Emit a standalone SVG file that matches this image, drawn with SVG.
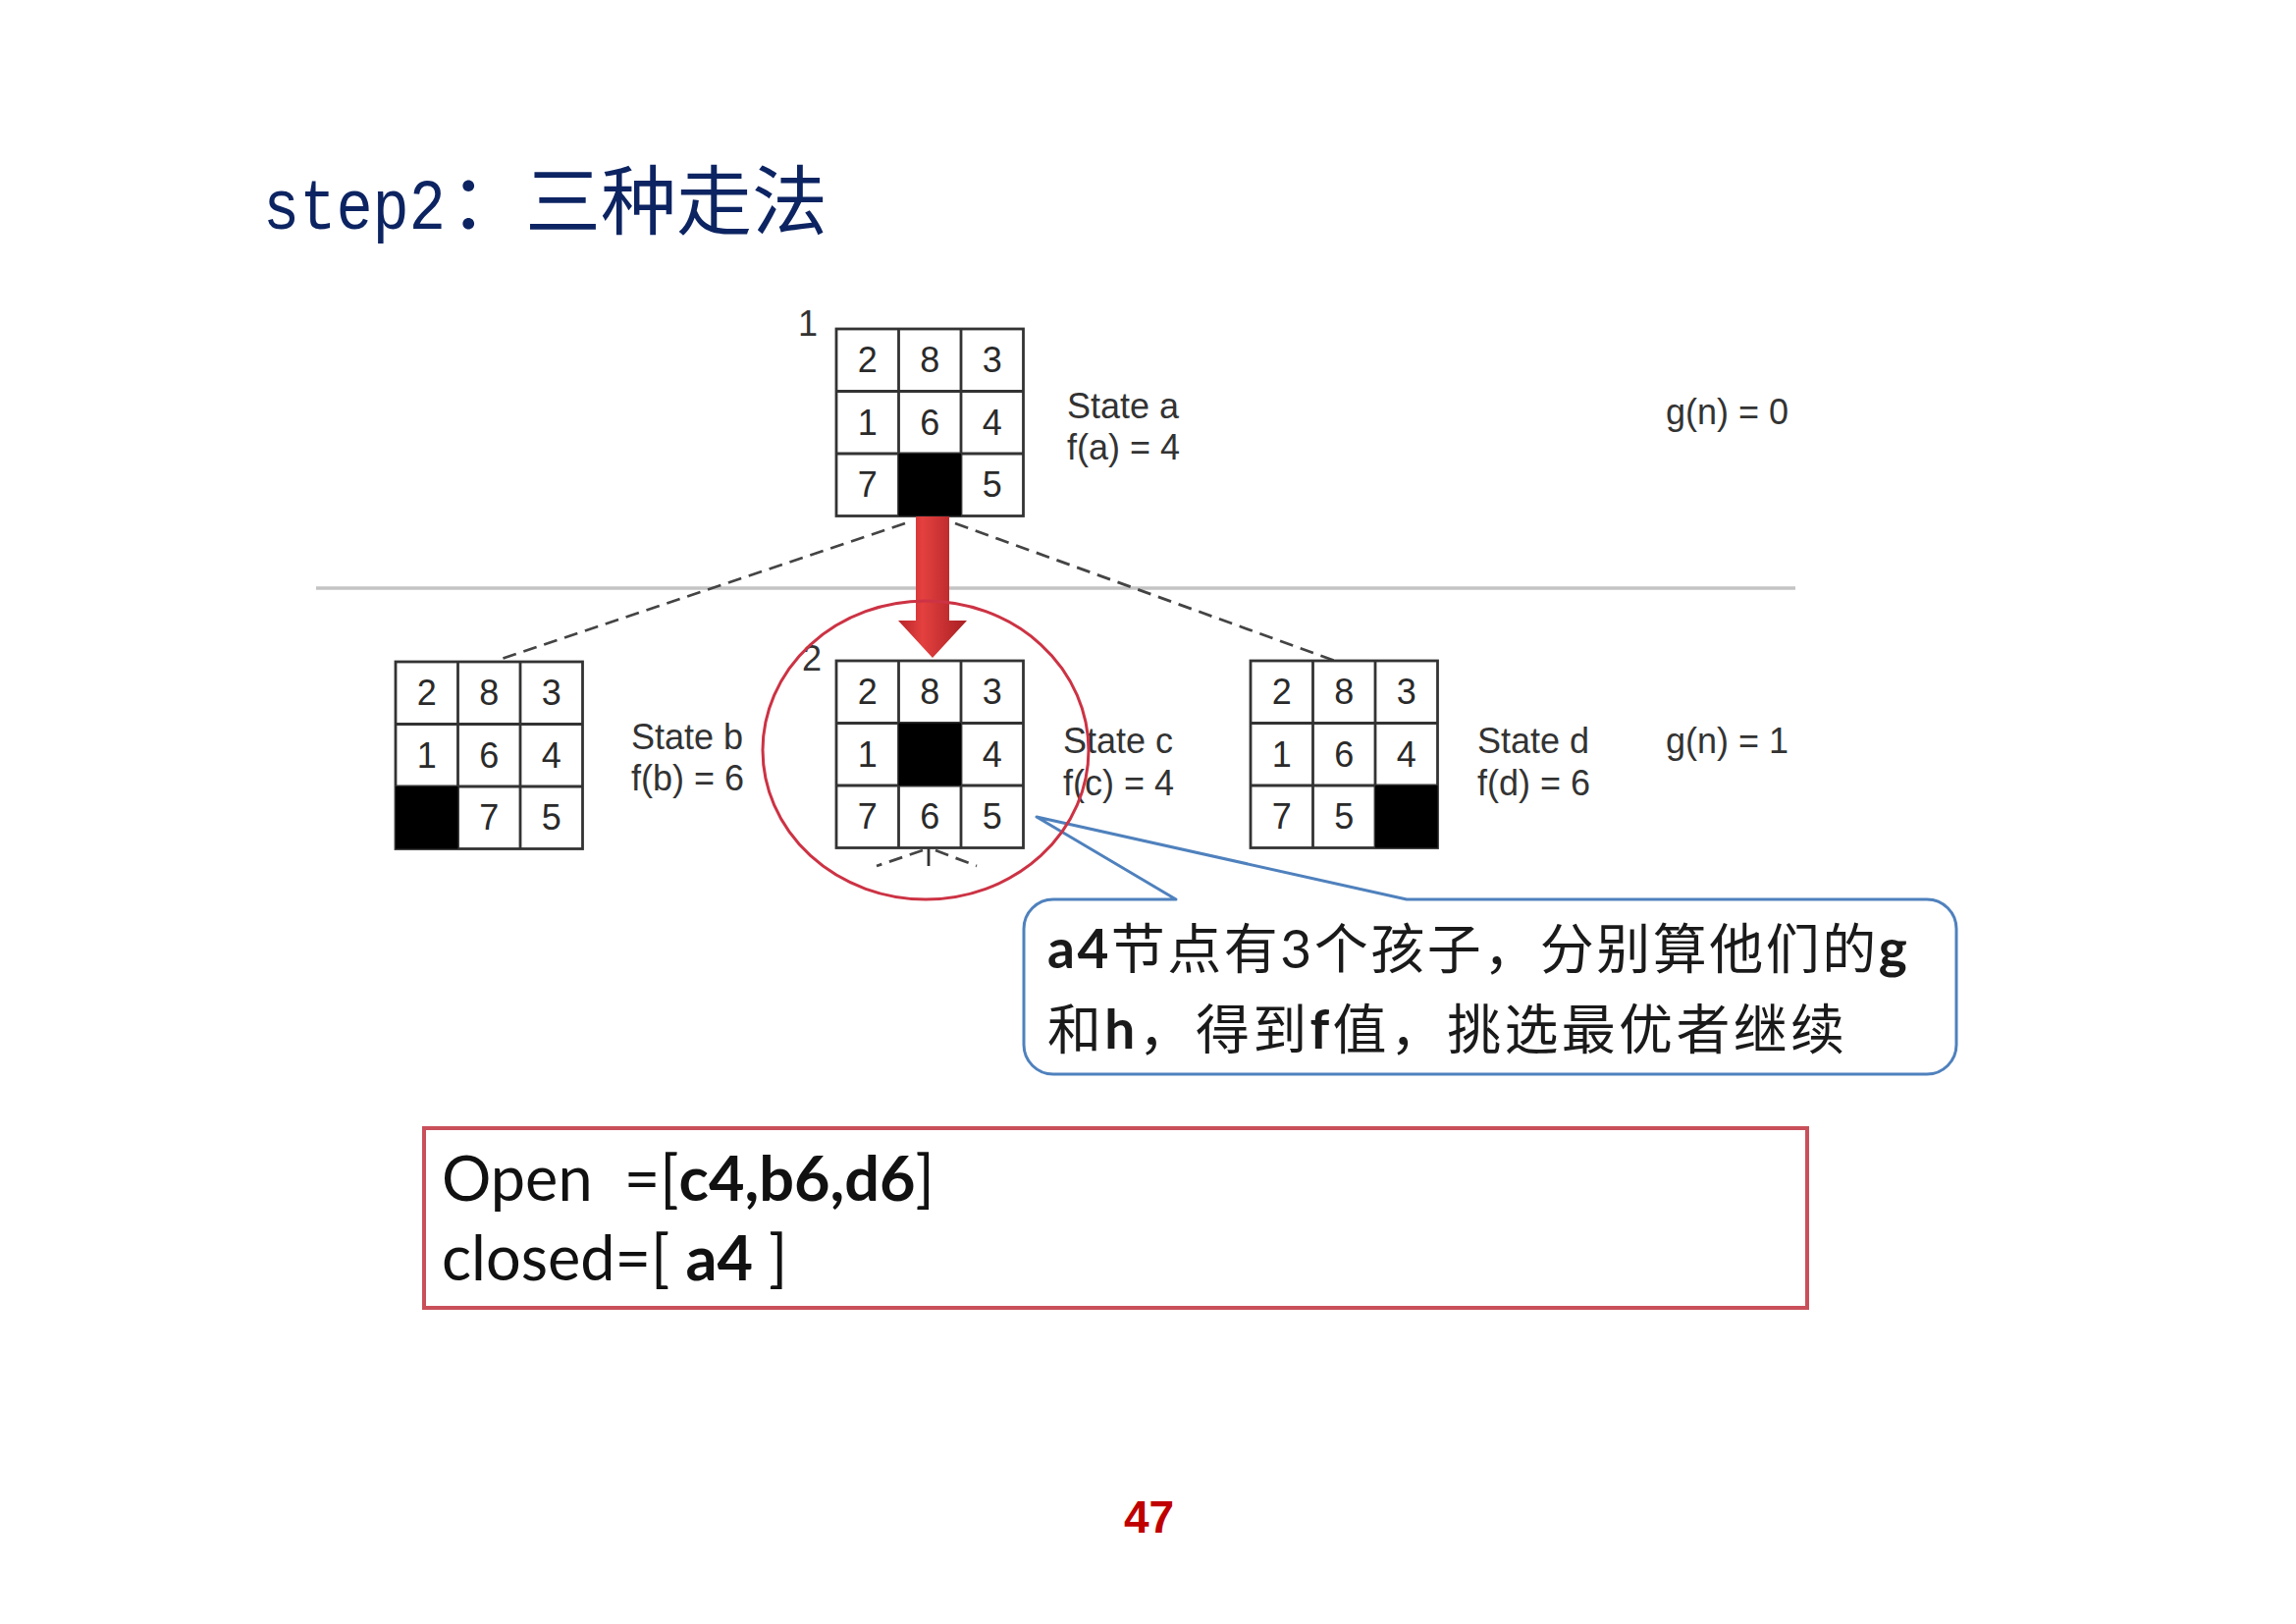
<svg xmlns="http://www.w3.org/2000/svg" xmlns:xlink="http://www.w3.org/1999/xlink" width="2339" height="1654" viewBox="0 0 2339 1654">
<style>
.gl{fill:#fff;stroke:#333;stroke-width:2.8}
.blk{fill:#000}
.dg{font-family:"Liberation Sans",Arial,sans-serif;font-size:36px;fill:#2a2a2a;text-anchor:middle}
.lb{font-family:"Liberation Sans",Arial,sans-serif;font-size:36px;fill:#333}
.dash{fill:none;stroke:#444;stroke-width:2.8;stroke-dasharray:14 8}
.cj{font-family:"Noto Sans CJK SC",sans-serif;font-size:55px;fill:#1a1a1a}
.lt{font-family:Lato,"Liberation Sans",sans-serif;font-weight:bold}
.ltr{font-family:Lato,"Liberation Sans",sans-serif}
.oc{font-family:Lato,"Liberation Sans",sans-serif;font-size:63px;fill:#111;white-space:pre}
</style>
<defs>
<g id="grid"><rect class="gl" x="0" y="0" width="190.5" height="190.5"/><path class="gl" d="M63.5 0V190.5M127 0V190.5M0 63.5H190.5M0 127H190.5"/></g>
<linearGradient id="arrowGrad" x1="0" y1="0" x2="1" y2="0">
<stop offset="0" stop-color="#b8262a"/><stop offset="0.35" stop-color="#e4403f"/><stop offset="1" stop-color="#a81f23"/>
</linearGradient>
</defs>
<rect width="2339" height="1654" fill="#fff"/>

<g id="title">
<text transform="translate(268,233) scale(1,1.18)" font-family="'Liberation Mono','DejaVu Sans Mono',monospace" font-size="62" fill="#0d2462">step2</text>
<text x="458" y="233" font-family="'Noto Sans CJK SC',sans-serif" font-size="77" fill="#0d2462">：三种走法</text>
</g>

<g id="connectors">
<line x1="322" y1="599" x2="1829" y2="599" stroke="#c4c4c4" stroke-width="3.5"/>
<line class="dash" x1="922" y1="533" x2="505" y2="673"/>
<line class="dash" x1="973" y1="533" x2="1360" y2="673"/>
<line class="dash" x1="940" y1="866" x2="893" y2="882"/>
<line class="dash" x1="953" y1="866" x2="995" y2="882"/>
<line x1="946" y1="864" x2="946" y2="882" stroke="#333" stroke-width="2.8"/>
</g>

<g id="node-a">
<text class="lb" x="813" y="342" font-size="32">1</text>
<use xlink:href="#grid" x="852" y="335"/>
<rect class="blk" x="915.5" y="462" width="63.5" height="63.5"/>
<g transform="translate(852,335)">
<text class="dg" x="31.75" y="44">2</text><text class="dg" x="95.25" y="44">8</text><text class="dg" x="158.75" y="44">3</text>
<text class="dg" x="31.75" y="107.5">1</text><text class="dg" x="95.25" y="107.5">6</text><text class="dg" x="158.75" y="107.5">4</text>
<text class="dg" x="31.75" y="171">7</text><text class="dg" x="158.75" y="171">5</text>
</g>
<text class="lb" x="1087" y="426">State a</text>
<text class="lb" x="1087" y="468">f(a) = 4</text>
</g>

<g id="node-b">
<use xlink:href="#grid" x="403" y="674"/>
<rect class="blk" x="403" y="801" width="63.5" height="63.5"/>
<g transform="translate(403,674)">
<text class="dg" x="31.75" y="44">2</text><text class="dg" x="95.25" y="44">8</text><text class="dg" x="158.75" y="44">3</text>
<text class="dg" x="31.75" y="107.5">1</text><text class="dg" x="95.25" y="107.5">6</text><text class="dg" x="158.75" y="107.5">4</text>
<text class="dg" x="95.25" y="171">7</text><text class="dg" x="158.75" y="171">5</text>
</g>
<text class="lb" x="643" y="763">State b</text>
<text class="lb" x="643" y="805">f(b) = 6</text>
</g>

<g id="node-c">
<text class="lb" x="817" y="683" font-size="32">2</text>
<use xlink:href="#grid" x="852" y="673"/>
<rect class="blk" x="915.5" y="736.5" width="63.5" height="63.5"/>
<g transform="translate(852,673)">
<text class="dg" x="31.75" y="44">2</text><text class="dg" x="95.25" y="44">8</text><text class="dg" x="158.75" y="44">3</text>
<text class="dg" x="31.75" y="107.5">1</text><text class="dg" x="158.75" y="107.5">4</text>
<text class="dg" x="31.75" y="171">7</text><text class="dg" x="95.25" y="171">6</text><text class="dg" x="158.75" y="171">5</text>
</g>
<text class="lb" x="1083" y="767">State c</text>
<text class="lb" x="1083" y="810">f(c) = 4</text>
</g>

<g id="node-d">
<use xlink:href="#grid" x="1274" y="673"/>
<rect class="blk" x="1401" y="800" width="63.5" height="63.5"/>
<g transform="translate(1274,673)">
<text class="dg" x="31.75" y="44">2</text><text class="dg" x="95.25" y="44">8</text><text class="dg" x="158.75" y="44">3</text>
<text class="dg" x="31.75" y="107.5">1</text><text class="dg" x="95.25" y="107.5">6</text><text class="dg" x="158.75" y="107.5">4</text>
<text class="dg" x="31.75" y="171">7</text><text class="dg" x="95.25" y="171">5</text>
</g>
<text class="lb" x="1505" y="767">State d</text>
<text class="lb" x="1505" y="810">f(d) = 6</text>
</g>

<g id="g-labels">
<text class="lb" x="1697" y="432">g(n) = 0</text>
<text class="lb" x="1697" y="767">g(n) = 1</text>
</g>

<g id="red-arrow">
<path d="M933 526H967V632H985L950 670L915 632H933Z" fill="url(#arrowGrad)"/>
</g>

<g id="callout">
<path d="M1073 916H1198L1056 832L1433 916H1963A30 30 0 0 1 1993 946V1064A30 30 0 0 1 1963 1094H1073A30 30 0 0 1 1043 1064V946A30 30 0 0 1 1073 916Z" fill="#fff" stroke="#4f81bd" stroke-width="3" stroke-linejoin="round"/>
<text class="cj" x="1067" y="986" letter-spacing="2.5"><tspan class="lt">a4</tspan>节点有<tspan class="ltr">3</tspan>个孩子，分别算他们的<tspan class="lt">g</tspan></text>
<text class="cj" x="1067" y="1068" letter-spacing="3.3">和<tspan class="lt">h</tspan>，得到<tspan class="lt">f</tspan>值，挑选最优者继续</text>
</g>

<g id="highlight-circle">
<ellipse cx="943" cy="764" rx="166" ry="152" fill="none" stroke="#cc3344" stroke-width="3"/>
</g>

<g id="open-closed">
<rect x="432" y="1149" width="1409" height="183" fill="none" stroke="#c9505a" stroke-width="4"/>
<text class="oc" x="450" y="1223">Open  =[<tspan font-weight="bold">c4,b6,d6</tspan>]</text>
<text class="oc" x="450" y="1304">closed=[ <tspan font-weight="bold">a4</tspan> ]</text>
</g>

<g id="page-number">
<text x="1145" y="1561" font-family="'Liberation Sans',Arial,sans-serif" font-weight="bold" font-size="46" fill="#c00000">47</text>
</g>
</svg>
